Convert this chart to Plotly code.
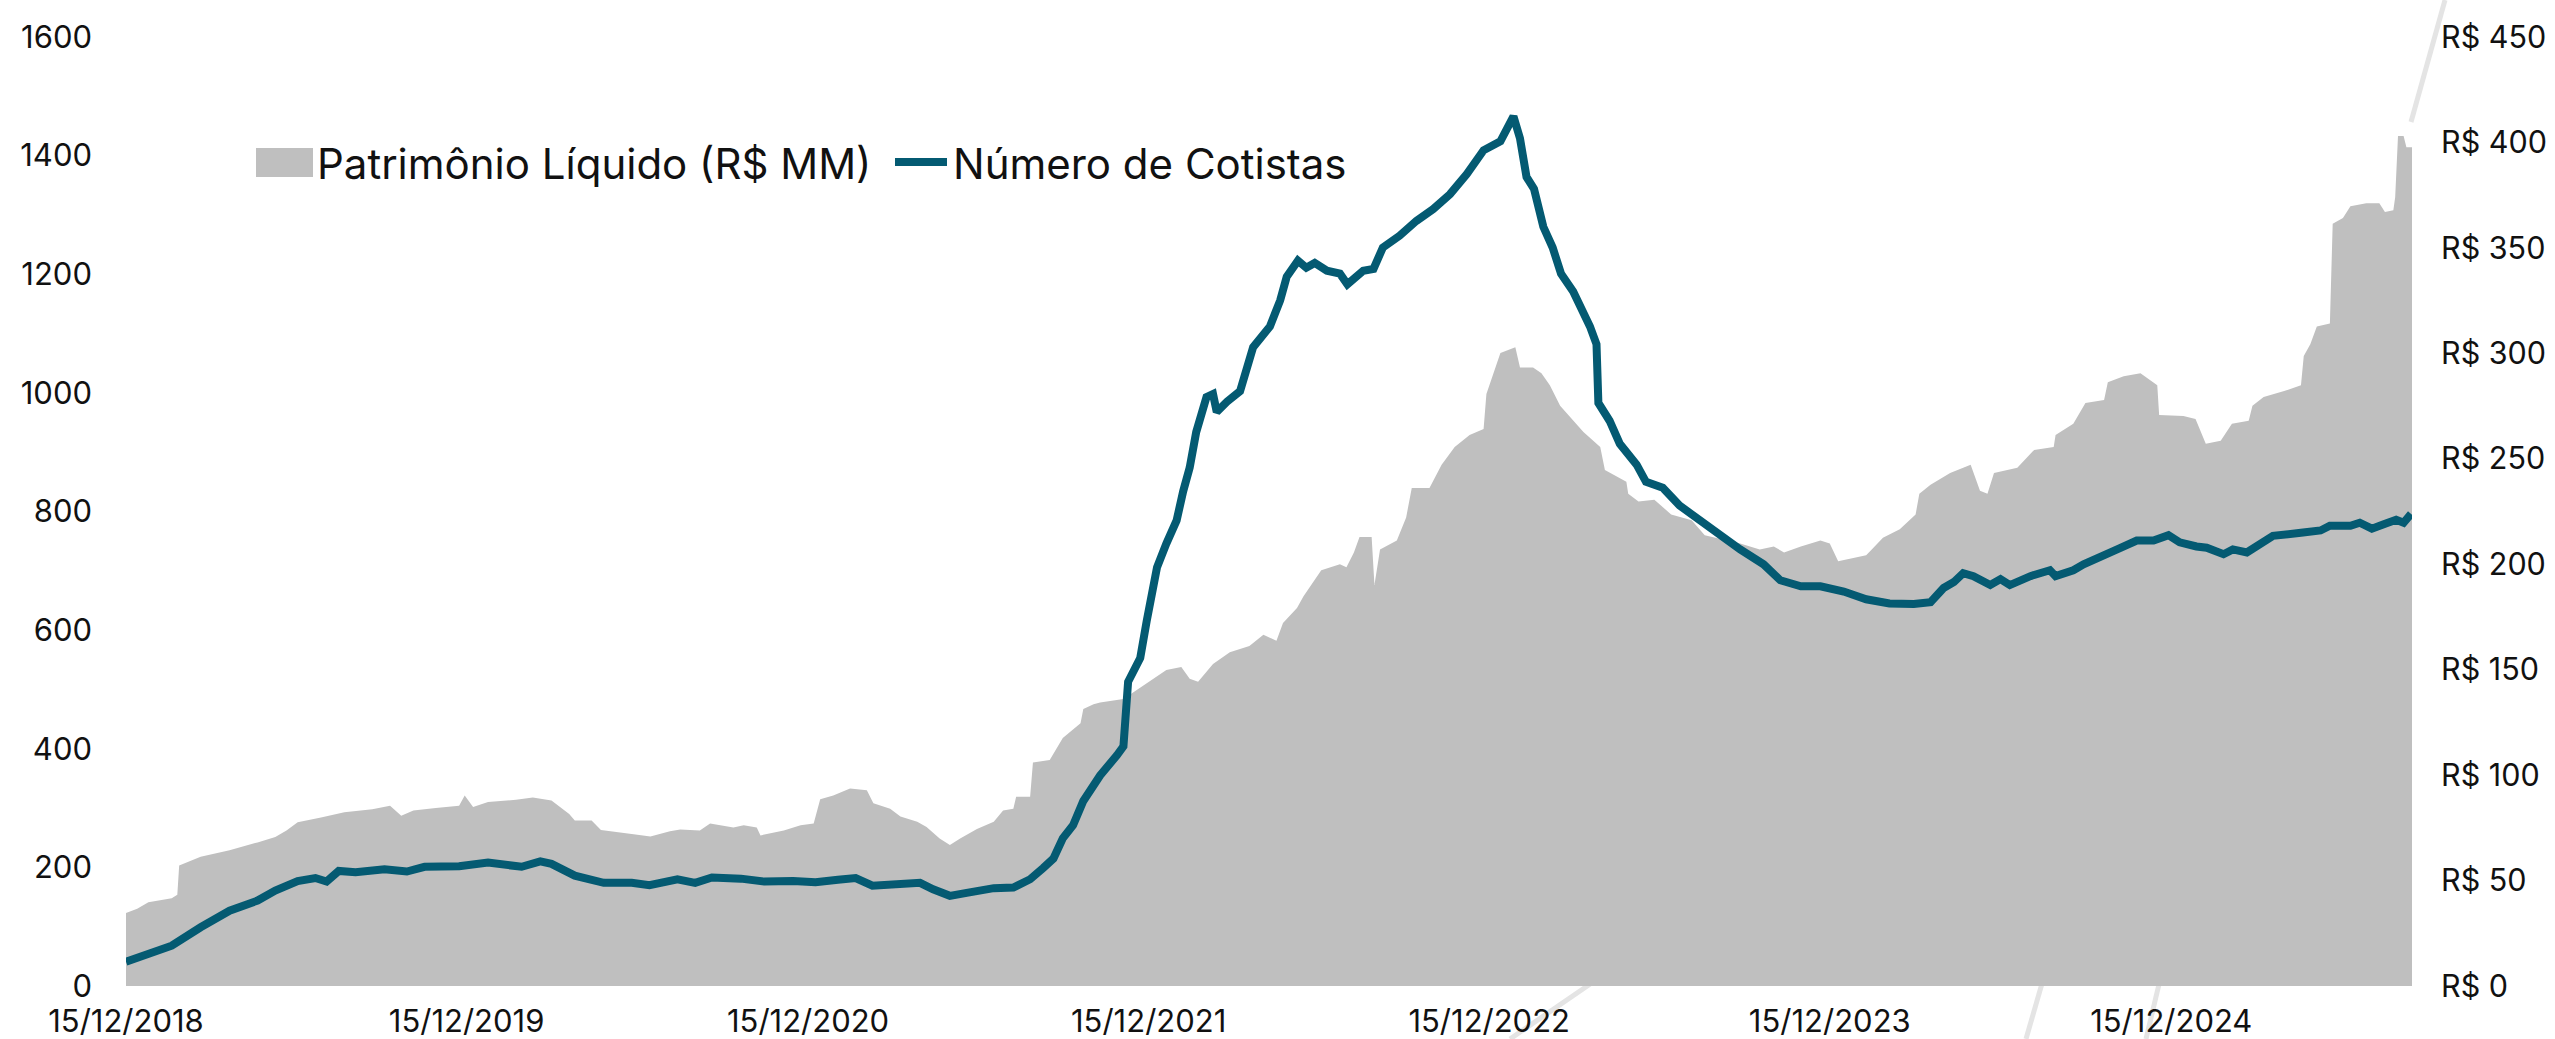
import plotly.graph_objects as go

# ---------------- data ----------------
pl_dates = [
    "2018-12-15", "2018-12-27", "2019-01-08", "2019-02-02", "2019-02-08", "2019-02-10",
    "2019-03-05", "2019-04-05", "2019-05-05", "2019-05-24", "2019-06-05", "2019-06-17",
    "2019-07-12", "2019-08-06", "2019-09-05", "2019-09-24", "2019-10-06", "2019-10-19",
    "2019-11-12", "2019-12-07", "2019-12-13", "2019-12-22", "2020-01-07", "2020-02-06",
    "2020-02-24", "2020-03-15", "2020-04-03", "2020-04-09", "2020-04-27", "2020-05-07",
    "2020-06-11", "2020-06-29", "2020-07-20", "2020-07-31", "2020-08-21", "2020-09-01",
    "2020-09-26", "2020-10-07", "2020-10-21", "2020-10-25", "2020-11-19", "2020-12-07",
    "2020-12-21", "2020-12-28", "2021-01-11", "2021-01-29", "2021-02-16", "2021-02-23",
    "2021-03-13", "2021-03-24", "2021-04-11", "2021-04-21", "2021-05-05", "2021-05-16",
    "2021-05-27", "2021-06-14", "2021-07-02", "2021-07-12", "2021-07-23", "2021-07-26",
    "2021-08-10", "2021-08-13", "2021-08-31", "2021-09-14", "2021-10-03", "2021-10-06",
    "2021-10-17", "2021-10-24", "2021-11-18", "2021-12-16", "2022-01-03", "2022-01-19",
    "2022-01-28", "2022-02-06", "2022-02-22", "2022-03-12", "2022-04-02", "2022-04-17",
    "2022-05-01", "2022-05-08", "2022-05-23", "2022-05-30", "2022-06-18", "2022-07-08",
    "2022-07-15", "2022-07-23", "2022-07-29", "2022-08-11", "2022-08-14", "2022-08-20",
    "2022-09-07", "2022-09-17", "2022-09-23", "2022-10-12", "2022-10-25", "2022-11-08",
    "2022-11-24", "2022-12-09", "2022-12-12", "2022-12-27", "2023-01-12", "2023-01-17",
    "2023-01-31", "2023-02-09", "2023-02-18", "2023-03-01", "2023-03-12", "2023-03-26",
    "2023-04-13", "2023-04-18", "2023-05-11", "2023-05-13", "2023-05-24", "2023-06-10",
    "2023-06-28", "2023-07-20", "2023-08-03", "2023-09-10", "2023-10-01", "2023-10-16",
    "2023-10-27", "2023-11-14", "2023-12-05", "2023-12-15", "2023-12-24", "2024-01-23",
    "2024-01-29", "2024-02-10", "2024-02-28", "2024-03-16", "2024-03-20", "2024-04-01",
    "2024-04-22", "2024-05-14", "2024-05-24", "2024-06-01", "2024-06-08", "2024-07-03",
    "2024-07-21", "2024-08-11", "2024-08-13", "2024-09-01", "2024-09-14", "2024-10-04",
    "2024-10-08", "2024-10-25", "2024-11-12", "2024-11-30", "2024-12-02", "2024-12-28",
    "2025-01-10", "2025-01-21", "2025-02-06", "2025-02-18", "2025-03-08", "2025-03-12",
    "2025-03-24", "2025-04-15", "2025-05-03", "2025-05-06", "2025-05-13", "2025-05-20",
    "2025-06-03", "2025-06-06", "2025-06-17", "2025-06-25", "2025-07-12", "2025-07-26",
    "2025-08-01", "2025-08-10", "2025-08-12", "2025-08-15", "2025-08-21", "2025-08-24",
    "2025-08-30",
]
pl_values = [
    34.6, 36.6, 39.7, 41.6, 43.3, 57.1,
    61.3, 64.4, 68.1, 70.6, 73.7, 77.6,
    79.9, 82.4, 83.8, 85.5, 80.7, 83.2,
    84.4, 85.5, 90.3, 84.9, 87.2, 88.3,
    89.4, 88.0, 81.6, 78.5, 78.5, 74.0,
    72.0, 70.9, 73.4, 74.2, 73.7, 77.1,
    75.1, 76.2, 75.1, 71.4, 73.7, 76.2,
    77.1, 88.6, 90.3, 93.7, 92.8, 86.6,
    84.1, 80.4, 77.9, 75.4, 70.0, 66.9,
    70.0, 74.5, 77.9, 83.2, 84.1, 89.7,
    89.7, 106.0, 107.2, 117.6, 124.6, 131.3,
    133.6, 134.4, 136.1, 144.3, 149.9, 151.3,
    145.7, 144.3, 152.7, 158.3, 161.2, 166.5,
    163.7, 172.1, 179.2, 184.8, 197.2, 200.0,
    198.6, 205.6, 212.9, 212.9, 190.1, 207.0,
    211.2, 222.2, 236.2, 236.2, 247.2, 255.6,
    261.3, 264.1, 280.7, 300.1, 302.9, 293.3,
    293.3, 290.5, 284.9, 275.1, 269.7, 262.7,
    255.6, 244.7, 239.1, 233.4, 229.8, 230.6,
    223.6, 220.8, 213.7, 209.8, 207.0, 208.4,
    205.6, 208.4, 211.2, 209.8, 201.4, 204.2,
    207.0, 212.6, 216.6, 223.6, 233.4, 237.7,
    243.3, 247.2, 234.8, 233.4, 243.3, 245.8,
    254.2, 255.6, 261.3, 266.6, 276.5, 277.9,
    286.3, 289.1, 290.5, 284.9, 270.8, 270.3,
    268.9, 257.1, 258.5, 266.6, 268.0, 275.1,
    279.3, 282.1, 284.9, 298.7, 304.3, 312.7,
    314.1, 361.4, 364.2, 369.8, 371.2, 371.2,
    367.0, 367.9, 374.1, 403.0, 403.0, 397.7,
    397.7,
]

cot_dates = [
    "2018-12-15", "2019-01-08", "2019-02-02", "2019-03-05", "2019-04-05", "2019-05-05",
    "2019-05-24", "2019-06-17", "2019-07-06", "2019-07-18", "2019-07-31", "2019-08-18",
    "2019-09-18", "2019-10-12", "2019-10-31", "2019-12-07", "2020-01-07", "2020-02-12",
    "2020-03-03", "2020-03-15", "2020-04-09", "2020-05-10", "2020-06-09", "2020-06-28",
    "2020-07-28", "2020-08-16", "2020-09-03", "2020-10-04", "2020-10-29", "2020-11-29",
    "2020-12-23", "2021-01-16", "2021-02-04", "2021-02-22", "2021-03-19", "2021-04-14",
    "2021-04-28", "2021-05-16", "2021-06-03", "2021-07-02", "2021-07-23", "2021-08-10",
    "2021-08-24", "2021-09-04", "2021-09-14", "2021-09-25", "2021-10-06", "2021-10-17",
    "2021-10-24", "2021-11-11", "2021-11-18", "2021-11-23", "2021-12-06", "2021-12-13",
    "2021-12-24", "2022-01-03", "2022-01-14", "2022-01-21", "2022-01-28", "2022-02-04",
    "2022-02-15", "2022-02-22", "2022-02-26", "2022-03-09", "2022-03-23", "2022-04-06",
    "2022-04-24", "2022-05-05", "2022-05-12", "2022-05-24", "2022-06-02", "2022-06-11",
    "2022-06-24", "2022-07-08", "2022-07-16", "2022-08-02", "2022-08-13", "2022-08-23",
    "2022-09-10", "2022-09-28", "2022-10-16", "2022-11-03", "2022-11-21", "2022-12-09",
    "2022-12-27", "2023-01-10", "2023-01-17", "2023-01-24", "2023-02-01", "2023-02-11",
    "2023-02-21", "2023-03-02", "2023-03-15", "2023-04-02", "2023-04-09", "2023-04-11",
    "2023-04-23", "2023-05-04", "2023-05-22", "2023-06-01", "2023-06-19", "2023-07-07",
    "2023-07-29", "2023-08-19", "2023-09-10", "2023-10-05", "2023-10-23", "2023-11-14",
    "2023-12-05", "2023-12-30", "2024-01-23", "2024-02-17", "2024-03-14", "2024-04-01",
    "2024-04-15", "2024-04-26", "2024-05-06", "2024-05-17", "2024-06-04", "2024-06-15",
    "2024-06-25", "2024-07-17", "2024-08-07", "2024-08-13", "2024-09-01", "2024-09-12",
    "2024-10-04", "2024-10-18", "2024-11-08", "2024-11-26", "2024-12-12", "2024-12-24",
    "2025-01-11", "2025-01-22", "2025-02-09", "2025-02-19", "2025-03-06", "2025-03-20",
    "2025-04-03", "2025-05-03", "2025-05-24", "2025-06-03", "2025-06-25", "2025-07-05",
    "2025-07-18", "2025-07-30", "2025-08-13", "2025-08-21", "2025-08-29",
]
cot_values = [
    41, 55, 68, 99, 127, 144,
    161, 177, 182, 176, 194, 192,
    197, 193, 201, 202, 208, 201,
    210, 206, 186, 174, 174, 170,
    180, 174, 183, 181, 176, 177,
    175, 179, 182, 169, 173, 174,
    163, 152, 157, 165, 166, 180,
    199, 215, 249, 271, 312, 337,
    355, 389, 404, 513, 553, 616,
    706, 746, 785, 834, 874, 934,
    993, 998, 968, 985, 1003, 1077,
    1112, 1156, 1196, 1223, 1211, 1219,
    1206, 1201, 1183, 1206, 1209, 1245,
    1265, 1290, 1310, 1335, 1369, 1409,
    1424, 1466, 1429, 1364, 1344, 1280,
    1245, 1201, 1171, 1112, 1082, 983,
    953, 914, 879, 850, 840, 810,
    785, 760, 736, 711, 684, 674,
    674, 665, 652, 645, 644, 647,
    671, 681, 696, 691, 676, 686,
    676, 691, 701, 691, 701, 711,
    728, 736, 751, 751, 760, 748,
    741, 739, 728, 736, 731, 744,
    759, 764, 768, 776, 776, 781,
    771, 778, 786, 781, 796,
]

x_tick_dates = ["2018-12-15", "2019-12-15", "2020-12-15", "2021-12-15",
                "2022-12-15", "2023-12-15", "2024-12-15"]
x_tick_labels = ["15/12/2018", "15/12/2019", "15/12/2020", "15/12/2021",
                 "15/12/2022", "15/12/2023", "15/12/2024"]
x_start, x_end = "2018-12-15", "2025-08-30"

PL_NAME = "Patrimônio Líquido (R$ MM)"
COT_NAME = "Número de Cotistas"

# ---------------- style ----------------
W, H = 2555, 1039
ML, MR, MT, MB = 126, 143, 37, 53
FONT = "Inter, 'Noto Sans', sans-serif"
TXT = "#111111"
AREA_COLOR = "#BFBFBF"
LINE_COLOR = "#045A72"

fig = go.Figure()
fig.add_trace(go.Scatter(
    x=pl_dates, y=pl_values, name=PL_NAME,
    mode="lines", line=dict(width=0, color=AREA_COLOR),
    fill="tozeroy", fillcolor=AREA_COLOR, yaxis="y", hoverinfo="skip",
    showlegend=False,
))
fig.add_trace(go.Scatter(
    x=cot_dates, y=cot_values, name=COT_NAME,
    mode="lines", line=dict(width=8, color=LINE_COLOR),
    yaxis="y2", showlegend=False,
))

# pixel -> paper helpers (for decoration / legend placement)
pw = W - ML - MR
ph = H - MT - MB


def px(xp):
    return (xp - ML) / pw


def py(yp):
    return (H - MB - yp) / ph


# faint decorative strokes behind the chart
strokes = [((1596, 980), (1510, 1039)),
           ((2043, 980), (2026, 1039)),
           ((2160, 980), (2146, 1039)),
           ((2445, 0), (2411, 122))]
shapes = []
for (x0, y0), (x1, y1) in strokes:
    shapes.append(dict(type="line", xref="paper", yref="paper",
                       x0=px(x0), y0=py(y0), x1=px(x1), y1=py(y1),
                       line=dict(color="#E4E4E4", width=5), layer="below"))

# legend (drawn manually to match the large swatches)
LEG_Y = 162
shapes.append(dict(type="rect", xref="paper", yref="paper",
                   x0=px(256), x1=px(313), y0=py(177), y1=py(148),
                   fillcolor=AREA_COLOR, line=dict(width=0), layer="above"))
shapes.append(dict(type="line", xref="paper", yref="paper",
                   x0=px(895), x1=px(947), y0=py(LEG_Y), y1=py(LEG_Y),
                   line=dict(color=LINE_COLOR, width=8), layer="above"))
annotations = [
    dict(text=PL_NAME, xref="paper", yref="paper", x=px(315), y=py(LEG_Y + 1),
         xanchor="left", yanchor="middle", showarrow=False,
         font=dict(size=42, color=TXT, family=FONT)),
    dict(text=COT_NAME, xref="paper", yref="paper", x=px(951), y=py(LEG_Y + 1),
         xanchor="left", yanchor="middle", showarrow=False,
         font=dict(size=42, color=TXT, family=FONT)),
]

fig.update_layout(
    width=W, height=H,
    margin=dict(l=ML, r=MR, t=MT, b=MB, autoexpand=False),
    paper_bgcolor="white", plot_bgcolor="rgba(0,0,0,0)",
    font=dict(family=FONT, size=31, color=TXT),
    showlegend=False,
    xaxis=dict(type="date", range=[x_start, x_end], tickmode="array",
               tickvals=x_tick_dates, ticktext=x_tick_labels,
               showgrid=False, zeroline=False, showline=False, ticks="",
               ticklabelstandoff=14),
    yaxis=dict(side="right", range=[0, 450], dtick=50, tickprefix="R$ ",
               showgrid=False, zeroline=False, showline=False, ticks="",
               ticklabelstandoff=28, tickfont=dict(size=30.5)),
    yaxis2=dict(side="left", overlaying="y", range=[0, 1600], dtick=200,
                showgrid=False, zeroline=False, showline=False, ticks="",
                ticklabelstandoff=33, tickformat="d"),
    shapes=shapes,
    annotations=annotations,
)

# remove the browser's default 8px body margin so the figure sits at (0, 0)
fig.write_html("out.html",
               config={"displayModeBar": False},
               post_script="document.body.style.margin='0';document.body.style.overflow='hidden';")
